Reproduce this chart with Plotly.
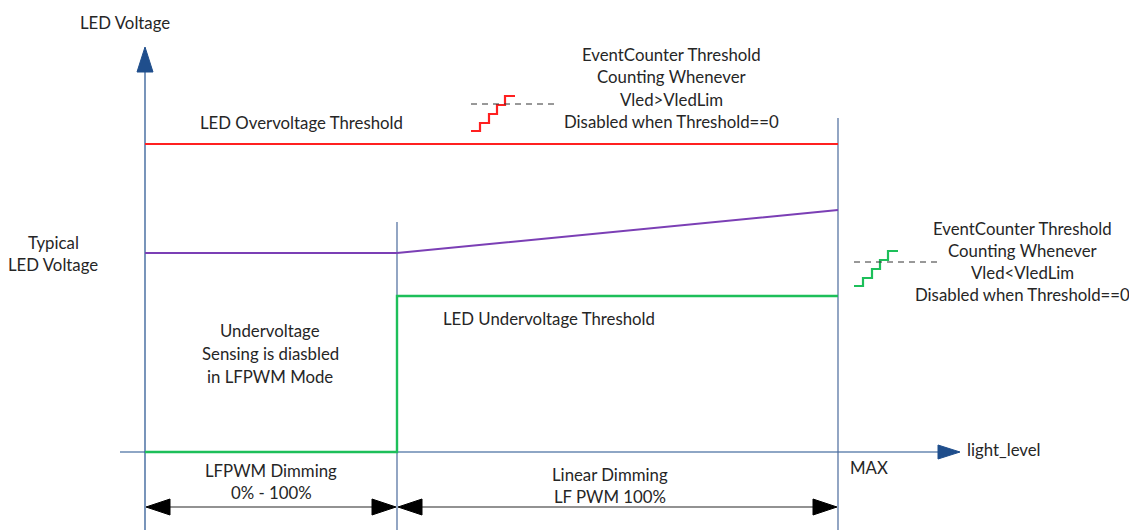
import plotly.graph_objects as go

# ---- data (diagram units: x = light level, y = LED voltage) ----
X_LFPWM_END = 252
X_MAX = 693
Y_OV = 308            # LED overvoltage threshold
Y_TYP = 199           # typical LED voltage (LFPWM region)
Y_TYP_MAX = 242       # typical LED voltage at MAX
Y_UV = 156            # LED undervoltage threshold

ov_x = [0, X_MAX]
ov_y = [Y_OV, Y_OV]
typ_x = [0, X_LFPWM_END, X_MAX]
typ_y = [Y_TYP, Y_TYP, Y_TYP_MAX]
uv_x = [0, X_LFPWM_END, X_LFPWM_END, X_MAX]
uv_y = [0, 0, Y_UV, Y_UV]

# staircase icons (relative step pattern)
stair_dx = [0, 9, 9, 18, 18, 26, 26, 34, 34, 44]
stair_dy = [0, 0, 8, 8, 17, 17, 26, 26, 35, 35]

TEXT = "#262626"
AXIS = "#1F4E8C"
FONT = "Lato"
FS = 16.8

fig = go.Figure()

def line(x, y, color, width=2, dash=None):
    fig.add_trace(go.Scatter(x=x, y=y, mode="lines", hoverinfo="skip",
                             line=dict(color=color, width=width, dash=dash),
                             showlegend=False))

def poly(x, y, color):
    fig.add_trace(go.Scatter(x=x + [x[0]], y=y + [y[0]], mode="lines", fill="toself",
                             fillcolor=color, line=dict(color=color, width=1),
                             hoverinfo="skip", showlegend=False))

# axes
Y_TOP = 405
X_RIGHT = 815
line([0, 0], [-90, Y_TOP - 20], AXIS, 1.2)
poly([-8, 8, 0], [Y_TOP - 25, Y_TOP - 25, Y_TOP], AXIS)
line([-25, X_RIGHT - 18], [0, 0], AXIS, 1.2)
poly([X_RIGHT - 22, X_RIGHT - 22, X_RIGHT], [7, -7, 0], AXIS)

# region boundaries
line([X_LFPWM_END, X_LFPWM_END], [-90, 230], "#4A6A9C", 1.2)
line([X_MAX, X_MAX], [-90, 334], "#4A6A9C", 1.2)

# threshold / voltage lines
line(ov_x, ov_y, "#FF2020", 2)
line(typ_x, typ_y, "#7B3FB5", 2)
line(uv_x, uv_y, "#1DBF5A", 2.4)

# dimension arrows
Y_DIM = -55
def dim_arrow(x0, x1):
    line([x0 + 20, x1 - 20], [Y_DIM, Y_DIM], "#262626", 1.2)
    poly([x0, x0 + 24, x0 + 24], [Y_DIM, Y_DIM + 8, Y_DIM - 8], "black")
    poly([x1, x1 - 24, x1 - 24], [Y_DIM, Y_DIM + 8, Y_DIM - 8], "black")
dim_arrow(1, X_LFPWM_END - 1)
dim_arrow(X_LFPWM_END + 1, X_MAX - 1)

# staircase icons
def stair(x0, y0, color):
    line([x0 + d for d in stair_dx], [y0 + d for d in stair_dy], color, 2.2)
stair(326, 321, "#FF2020")
line([326, 413], [348, 348], "#333333", 1, "6px,5px")
stair(709, 166, "#1DBF5A")
line([709, 797], [190, 190], "#333333", 1, "6px,5px")

def text(x, y, s, anchor="center"):
    fig.add_annotation(x=x, y=y, text=s, showarrow=False, xanchor=anchor,
                       yanchor="middle", font=dict(family=FONT, size=FS, color=TEXT))

text(-20, 430, "LED Voltage")
text(156, 330, "LED Overvoltage Threshold")
for i, s in enumerate(["EventCounter Threshold", "Counting Whenever",
                       "Vled>VledLim", "Disabled when Threshold==0"]):
    text(526, 398 - 22.6 * i, s)
for i, s in enumerate(["EventCounter Threshold", "Counting Whenever",
                       "Vled<VledLim", "Disabled when Threshold==0"]):
    text(877, 224 - 22 * i, s)
text(-92, 210, "Typical")
text(-92, 188, "LED Voltage")
text(404, 134, "LED Undervoltage Threshold")
for i, s in enumerate(["Undervoltage", "Sensing is diasbled", "in LFPWM Mode"]):
    text(125, 122 - 23 * i, s)
text(126, -18, "LFPWM Dimming")
text(126, -40, "0% - 100%")
text(465, -22, "Linear Dimming")
text(465, -44, "LF PWM 100%")
text(X_MAX + 10, -15, "MAX", "left")
text(X_RIGHT + 5, 3, "light_level", "left")

# the page adds an 8px body margin; shift the view to compensate
fig.update_layout(
    width=1137, height=530,
    margin=dict(l=0, r=0, t=0, b=0),
    paper_bgcolor="white", plot_bgcolor="white",
    xaxis=dict(range=[-137, 1000], visible=False, fixedrange=True),
    yaxis=dict(range=[-86, 444], visible=False, fixedrange=True),
    showlegend=False,
)

fig.write_html("out.html")
